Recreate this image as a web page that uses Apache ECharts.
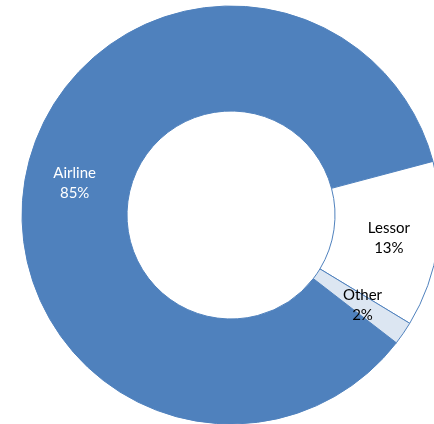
<!DOCTYPE html>
<html>
<head>
<meta charset="utf-8">
<script src="https://cdn.jsdelivr.net/npm/echarts@6/dist/echarts.min.js"></script>
<style>
  html, body { margin: 0; padding: 0; background: #fff; }
  #chart { width: 434px; height: 424px; }
</style>
</head>
<body>
<div id="chart"></div>
<script>
// 数据
const categories = ['Airline', 'Lessor', 'Other'];
const shares = [85.4, 12.8, 1.8];
const fills = ['#4F81BD', '#FFFFFF', '#DCE6F2'];
const labelColors = ['#FFFFFF', '#000000', '#000000'];

document.addEventListener('DOMContentLoaded', function() {
    const chart = echarts.init(document.getElementById('chart'));
    const option = {
        animation: false,
        series: [
            {
                type: 'pie',
                center: [231, 215],
                radius: [104, 209],
                startAngle: 322.3,
                clockwise: true,
                percentPrecision: 0,
                avoidLabelOverlap: false,
                itemStyle: {
                    borderColor: '#4F81BD',
                    borderWidth: 1
                },
                label: {
                    show: true,
                    position: 'inside',
                    formatter: '{b}\n{d}%',
                    fontFamily: 'Lato',
                    fontSize: 15,
                    lineHeight: 20
                },
                labelLine: { show: false },
                emphasis: { disabled: true },
                data: categories.map(function(name, i) {
                    return {
                        name: name,
                        value: shares[i],
                        itemStyle: { color: fills[i] },
                        label: { color: labelColors[i] }
                    };
                })
            }
        ]
    };
    chart.setOption(option);
});
</script>
</body>
</html>
